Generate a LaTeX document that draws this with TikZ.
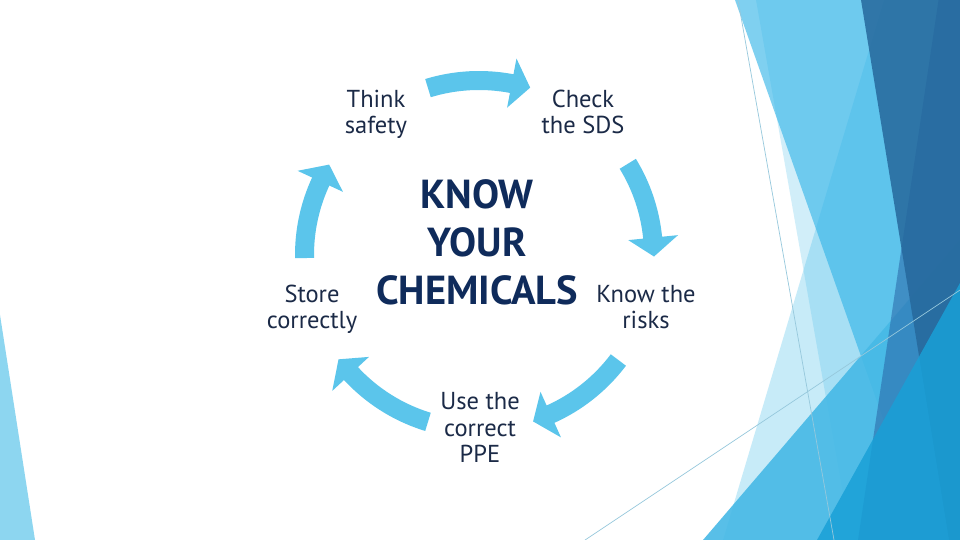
\documentclass[tikz,border=0pt]{standalone}
\usepackage{fontspec}
\setmainfont{PT Sans}
\definecolor{lightA}{RGB}{72,190,235}
\definecolor{lightB}{RGB}{50,180,232}
\definecolor{triA}{RGB}{70,185,230}
\definecolor{darkA}{RGB}{40,100,165}
\definecolor{darkB}{RGB}{38,104,156}
\definecolor{triB}{RGB}{25,160,215}
\definecolor{edgeblue}{RGB}{141,214,240}
\definecolor{thinline}{RGB}{150,200,220}
\definecolor{arrowblue}{RGB}{91,197,235}
\definecolor{labeltext}{RGB}{27,42,71}
\definecolor{titletext}{RGB}{15,43,91}
\newcommand\stackc[1]{\vtop{\halign{\hfil##\hfil\cr#1\crcr}}}
\newcommand\cyclearrow[2]{%
  \pgfmathsetmacro\hb{#2+6.2}%
  \fill[arrowstyle,shift={(479,285)}] (#1:184) arc[start angle=#1, end angle=\hb, radius=184pt]
    -- (\hb:200) -- (#2:175) -- (\hb:150) -- (\hb:165)
    arc[start angle=\hb, end angle=#1, radius=165pt] -- cycle;}
\tikzset{
  arrowstyle/.style={fill=arrowblue},
  labelnode/.style={anchor=base, inner sep=0pt, text=labeltext,
    font=\fontsize{24.5}{25.5}\selectfont},
  titlenode/.style={anchor=base, inner sep=0pt, text=titletext,
    font=\fontsize{40.5}{48}\selectfont\bfseries},
  thin/.style={draw=thinline, line width=0.7pt}
}
\begin{document}
\begin{tikzpicture}[x=1pt,y=1pt]
\useasboundingbox (0,0) rectangle (960,540);
\fill[white] (0,0) rectangle (960,540);
% background facets
\fill[lightA, opacity=0.3] (884,540) -- (960,540) -- (960,0) -- (723,0) -- cycle;
\fill[lightA, opacity=0.25] (756,540) -- (960,540) -- (960,0) -- (851,0) -- cycle;
\fill[lightB, opacity=0.62] (735,540) -- (960,540) -- (960,0) -- (926,0) -- cycle;
\fill[triA, opacity=0.9] (960,300) -- (703,0) -- (960,0) -- cycle;
\fill[darkA, opacity=0.55] (938.5,540) -- (960,540) -- (960,0) -- (858,0) -- cycle;
\fill[darkB, opacity=0.85] (861,540) -- (960,540) -- (960,0) -- (949,0) -- cycle;
\fill[triB, opacity=0.85] (960,257) -- (817,0) -- (960,0) -- cycle;
\fill[edgeblue] (0,225) -- (35,0) -- (0,0) -- cycle;
\draw[thin] (738,540) -- (834,0);
\draw[thin] (585,0) -- (960,250);
% cycle arrows
\cyclearrow{107}{73}
\cyclearrow{31.5}{-0.5}
\cyclearrow{-37}{-72}
\cyclearrow{253}{216.6}
\cyclearrow{181}{148.9}
% labels
\node[labelnode] (think) at (376,432) {\stackc{Think\cr safety}};
\node[labelnode] (check) at (583,432) {\stackc{Check\cr the SDS}};
\node[labelnode] (risks) at (646,237) {\stackc{Know the\cr risks}};
\node[labelnode, font=\fontsize{24.5}{26.5}\selectfont] (ppe) at (480,130) {\stackc{Use the\cr correct\cr PPE}};
\node[labelnode] (store) at (312,237) {\stackc{Store\cr correctly}};
\node[titlenode] (title) at (477,331) {\stackc{KNOW\cr YOUR\cr CHEMICALS}};
\end{tikzpicture}
\end{document}
